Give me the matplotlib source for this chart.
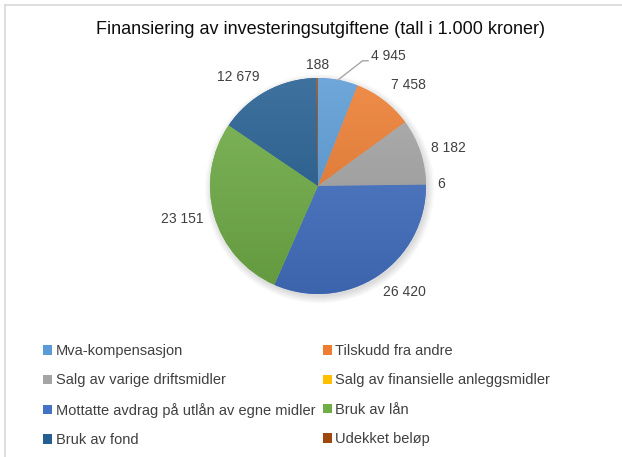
import numpy as np
import matplotlib
matplotlib.use('Agg')
import matplotlib.pyplot as plt
from matplotlib.colors import to_rgb
from matplotlib.patches import Circle
from matplotlib.lines import Line2D

# data
categories = ['Mva-kompensasjon', 'Tilskudd fra andre', 'Salg av varige driftsmidler',
              'Salg av finansielle anleggsmidler', 'Mottatte avdrag på utlån av egne midler',
              'Bruk av lån', 'Bruk av fond', 'Udekket beløp']
values = [4945, 7458, 8182, 6, 26420, 23151, 12679, 188]
value_labels = ['4 945', '7 458', '8 182', '6', '26 420', '23 151', '12 679', '188']
colors = ['#5B9BD5', '#ED7D31', '#A5A5A5', '#FFC000', '#4472C4', '#70AD47', '#255E91', '#9E480E']

W, H = 622, 457
fig = plt.figure(figsize=(W / 100, H / 100), dpi=100)

# chart border (only left/top edges fall inside the picture)
bx, by = 4.5 / W, 1 - 4.5 / H
fig.add_artist(Line2D([bx, 1.0], [by, by], transform=fig.transFigure, color='#d9d9d9', lw=1.2))
fig.add_artist(Line2D([bx, bx], [0.0, by], transform=fig.transFigure, color='#d9d9d9', lw=1.2))

fig.text(320 / W, 1 - 30 / H, 'Finansiering av investeringsutgiftene (tall i 1.000 kroner)',
         ha='center', va='center', fontsize=13, family='Liberation Sans', color='#0d0d0d')

cx, cy, r = 318, 186, 108
half = 162
ax = fig.add_axes([(cx - half) / W, 1 - (cy + half) / H, 2 * half / W, 2 * half / H])
ax.set_xlim(-1.5, 1.5)
ax.set_ylim(-1.5, 1.5)
ax.axis('off')

# soft shadow
for k in range(6):
    ax.add_patch(Circle((0.015, -0.025), 1.0 + 0.012 * k, color='black', alpha=0.025, lw=0, zorder=0))
ax.add_patch(Circle((0, 0), 1.0, color='white', lw=0, zorder=0.5))

wedges, _ = ax.pie(values, colors=colors, startangle=90, counterclock=False, radius=1.0,
                   wedgeprops=dict(linewidth=0), frame=False)
ax.set_xlim(-1.5, 1.5)
ax.set_ylim(-1.5, 1.5)

# gentle top-light / bottom-dark gradient like the office style
yy = np.linspace(1, 0, 256)[:, None]
for w, c in zip(wedges, colors):
    c = np.array(to_rgb(c))
    light = c + (1 - c) * 0.12
    dark = c * 0.88
    grad = light[None, None, :] * yy[:, :, None] + dark[None, None, :] * (1 - yy[:, :, None])
    grad = np.repeat(grad, 2, axis=1)
    im = ax.imshow(grad, extent=(-1, 1, -1, 1), origin='upper', zorder=2, aspect='auto')
    im.set_clip_path(w)

total = sum(values)
txtcol = '#404040'
lab_font = dict(fontsize=10, family='Liberation Sans', color=txtcol)
cum = 0
for i, (v, lab) in enumerate(zip(values, value_labels)):
    mid = (cum + v / 2) / total * 2 * np.pi
    cum += v
    sx, sy = np.sin(mid), np.cos(mid)
    if i == 0:
        ax.annotate(lab, xy=(sx, sy), xytext=(33, 17), textcoords='offset pixels',
                    ha='left', va='bottom', zorder=5,
                    arrowprops=dict(arrowstyle='-', color='#a6a6a6', lw=1, shrinkA=0, shrinkB=0,
                                    relpos=(0, 0.15),
                                    connectionstyle='angle,angleA=0,angleB=38'),
                    **lab_font)
        continue
    d = 1.1
    ha = 'left' if sx > 0.25 else ('right' if sx < -0.25 else 'center')
    va = 'bottom' if sy > 0.5 else ('top' if sy < -0.5 else 'center')
    if i == 6:
        d, va = 1.15, 'center'
    if i == 7:
        d = 1.06
    ax.text(d * sx, d * sy, lab, ha=ha, va=va, zorder=5, **lab_font)

order = [0, 2, 4, 6, 1, 3, 5, 7]
leg = fig.legend([wedges[i] for i in order], [categories[i] for i in order], ncol=2,
                 loc='upper left', bbox_to_anchor=(30 / W, 1 - 331 / H), frameon=False,
                 handlelength=0.6, handleheight=0.6, handletextpad=0.25, columnspacing=0.55,
                 labelspacing=1.05, prop=dict(family='Liberation Sans', size=10.5))
for t in leg.get_texts():
    t.set_color(txtcol)

fig.savefig('out.png', dpi=100)
